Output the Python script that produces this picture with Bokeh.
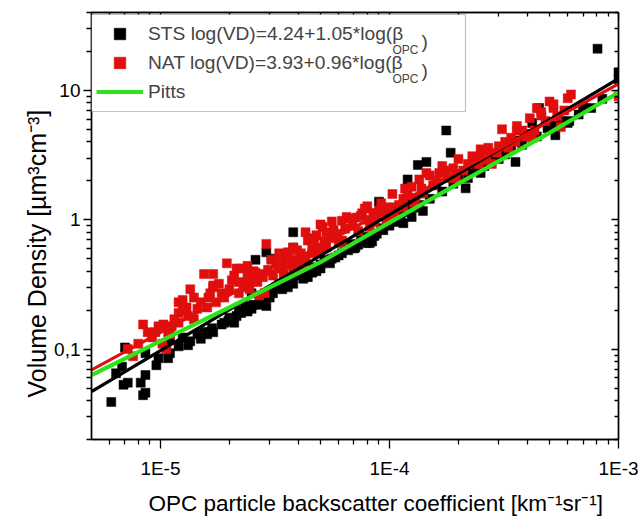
from bokeh.plotting import figure
from bokeh.models import (FixedTicker, LogAxis, CustomJSTickFormatter, Legend, LegendItem,
                          BoxAnnotation, Label, ColumnDataSource, Title)
from bokeh.embed import file_html
from bokeh.resources import INLINE

FONT = "Liberation Sans"

# ---- data ----
sts_x = [6.1e-6, 6.4e-6, 6.8e-6, 6.9e-6, 7.0e-6, 7.2e-6, 8.2e-6, 8.4e-6, 8.6e-6, 8.6e-6,
         8.6e-6, 9.6e-6, 9.8e-6, 1.06e-5, 1.08e-5, 1.1e-5, 1.1e-5, 1.25e-5, 1.32e-5, 1.45e-5,
         1.5e-5, 1.55e-5, 1.6e-5, 1.68e-5, 1.85e-5, 1.9e-5, 1.98e-5, 2.1e-5, 2.15e-5, 2.25e-5,
         2.35e-5, 2.4e-5, 2.4e-5, 2.5e-5, 2.5e-5, 2.55e-5, 2.6e-5, 2.8e-5, 2.85e-5, 2.9e-5,
         2.9e-5, 3.0e-5, 3.05e-5, 3.2e-5, 3.3e-5, 3.6e-5, 3.6e-5, 3.8e-5, 3.8e-5, 3.8e-5,
         3.9e-5, 4.1e-5, 4.2e-5, 4.4e-5, 4.6e-5, 4.7e-5, 5.0e-5, 5.0e-5, 5.3e-5, 5.6e-5,
         5.8e-5, 6.2e-5, 6.6e-5, 7.0e-5, 7.1e-5, 7.5e-5, 8.0e-5, 8.2e-5, 8.4e-5, 8.8e-5,
         9.0e-5, 9.4e-5, 9.5e-5, 1.0e-4, 1.05e-4, 1.08e-4, 1.1e-4, 1.15e-4, 1.2e-4, 1.25e-4,
         1.25e-4, 1.28e-4, 1.33e-4, 1.4e-4, 1.4e-4, 1.45e-4, 1.6e-4, 1.77e-4, 1.85e-4, 2.0e-4,
         2.15e-4, 2.3e-4, 2.5e-4, 2.7e-4, 2.8e-4, 3.0e-4, 3.05e-4, 3.4e-4, 3.55e-4, 3.7e-4,
         4.1e-4, 4.2e-4, 4.5e-4, 4.9e-4, 5.2e-4, 5.3e-4, 5.6e-4, 6.0e-4, 6.1e-4, 6.7e-4,
         7.6e-4, 8.1e-4, 1.0e-3, 1.0e-3,
         1.2e-5, 1.35e-5, 1.7e-5, 2.0e-5, 2.2e-5, 2.7e-5, 3.1e-5, 3.4e-5, 3.5e-5, 3.7e-5,
         4.0e-5, 4.3e-5, 4.5e-5, 4.8e-5, 5.2e-5, 5.5e-5, 6.0e-5, 6.4e-5, 6.8e-5, 7.3e-5,
         7.8e-5, 8.6e-5, 9.2e-5, 9.8e-5, 1.12e-4, 1.18e-4, 1.35e-4, 1.5e-4, 1.7e-4, 1.9e-4,
         2.2e-4, 2.6e-4, 3.2e-4, 3.8e-4, 4.4e-4, 5.0e-4, 7.0e-4, 8.5e-4]
sts_y = [0.039, 0.065, 0.073, 0.053, 0.103, 0.055, 0.055, 0.044, 0.046, 0.063,
         0.093, 0.075, 0.085, 0.11, 0.085, 0.093, 0.118, 0.123, 0.107, 0.13,
         0.12, 0.136, 0.13, 0.145, 0.155, 0.16, 0.165, 0.16, 0.18, 0.19,
         0.215, 0.195, 0.20, 0.205, 0.27, 0.22, 0.49, 0.25, 0.23, 0.215,
         0.56, 0.25, 0.50, 0.30, 0.32, 0.30, 0.34, 0.32, 0.61, 0.80,
         0.37, 0.39, 0.35, 0.36, 0.39, 0.42, 0.42, 0.45, 0.47, 0.50,
         0.51, 0.55, 0.58, 0.60, 0.61, 0.70, 0.66, 0.66, 0.68, 0.78,
         1.38, 0.83, 1.17, 0.90, 1.10, 0.96, 1.25, 0.94, 2.05, 1.05,
         1.33, 1.24, 2.65, 1.17, 1.60, 2.8, 1.85, 4.9, 3.3, 2.2,
         1.75, 2.4, 2.3, 2.85, 2.9, 2.95, 3.3, 3.7, 2.8, 4.1,
         4.6, 5.6, 7.3, 5.1, 5.3, 4.5, 5.8, 5.6, 5.8, 6.5,
         7.3, 21.0, 12.2, 13.8,
         0.105, 0.115, 0.135, 0.175, 0.20, 0.22, 0.27, 0.29, 0.33, 0.35,
         0.40, 0.38, 0.43, 0.40, 0.49, 0.46, 0.53, 0.62, 0.65, 0.64,
         0.74, 0.75, 0.86, 0.95, 1.05, 1.15, 1.30, 1.45, 1.65, 1.90,
         2.1, 2.6, 3.2, 3.8, 4.4, 5.6, 7.6, 8.6]

nat_x = [7.2e-6, 7.6e-6, 8.0e-6, 8.4e-6, 8.8e-6, 9.2e-6, 9.5e-6, 9.8e-6, 1.02e-5, 1.03e-5,
         1.06e-5, 1.08e-5, 1.12e-5, 1.2e-5, 1.2e-5, 1.2e-5, 1.25e-5, 1.25e-5, 1.32e-5, 1.35e-5,
         1.45e-5, 1.5e-5, 1.55e-5, 1.62e-5, 1.7e-5, 1.7e-5, 1.7e-5, 1.85e-5, 1.95e-5, 2.05e-5,
         2.1e-5, 2.15e-5, 2.2e-5, 2.25e-5, 2.3e-5, 2.4e-5, 2.4e-5, 2.4e-5, 2.5e-5, 2.55e-5,
         2.6e-5, 2.7e-5, 2.75e-5, 2.85e-5, 2.9e-5, 3.05e-5, 3.2e-5, 3.3e-5, 3.35e-5, 3.4e-5,
         3.5e-5, 3.6e-5, 3.6e-5, 3.8e-5, 3.8e-5, 3.95e-5, 4.1e-5, 4.2e-5, 4.3e-5, 4.4e-5,
         4.5e-5, 4.6e-5, 4.7e-5, 4.8e-5, 5.0e-5, 5.0e-5, 5.1e-5, 5.3e-5, 5.3e-5, 5.6e-5,
         5.7e-5, 6.2e-5, 6.2e-5, 6.5e-5, 6.7e-5, 7.2e-5, 7.5e-5, 7.6e-5, 7.8e-5, 8.0e-5,
         8.2e-5, 8.5e-5, 8.8e-5, 9.2e-5, 9.7e-5, 9.7e-5, 1.03e-4, 1.1e-4, 1.15e-4, 1.15e-4,
         1.17e-4, 1.25e-4, 1.3e-4, 1.35e-4, 1.38e-4, 1.45e-4, 1.5e-4, 1.55e-4, 1.7e-4, 1.8e-4,
         1.95e-4, 2.0e-4, 2.2e-4, 2.3e-4, 2.45e-4, 2.5e-4, 2.6e-4, 2.7e-4, 2.8e-4, 2.95e-4,
         3.0e-4, 3.1e-4, 3.2e-4, 3.4e-4, 3.55e-4, 3.6e-4, 3.6e-4, 3.8e-4, 4.1e-4, 4.2e-4,
         4.3e-4, 4.4e-4, 4.6e-4, 4.6e-4, 5.0e-4, 5.2e-4, 5.2e-4, 5.6e-4, 6.0e-4, 6.2e-4,
         1.0e-3,
         1.1e-5, 1.15e-5, 1.3e-5, 1.4e-5, 1.4e-5, 1.6e-5, 1.65e-5, 1.75e-5, 1.8e-5, 1.9e-5,
         2.0e-5, 2.2e-5, 2.35e-5, 2.45e-5, 2.65e-5, 2.8e-5, 2.95e-5, 3.1e-5, 3.25e-5, 3.45e-5,
         3.7e-5, 3.9e-5, 4.0e-5, 4.3e-5, 4.6e-5, 4.9e-5, 5.2e-5, 5.5e-5, 5.9e-5, 6.0e-5,
         6.4e-5, 6.9e-5, 7.3e-5, 8.0e-5, 8.6e-5, 9.0e-5, 1.0e-4, 1.05e-4, 1.2e-4, 1.28e-4,
         1.4e-4, 1.6e-4, 1.65e-4, 1.75e-4, 1.9e-4, 2.1e-4, 2.4e-4, 2.65e-4, 3.3e-4, 3.9e-4,
         4.8e-4, 5.4e-4, 5.8e-4]
nat_y = [0.10, 0.088, 0.11, 0.155, 0.135, 0.123, 0.135, 0.15, 0.11, 0.155,
         0.10, 0.135, 0.15, 0.16, 0.19, 0.23, 0.20, 0.24, 0.18, 0.29,
         0.205, 0.23, 0.38, 0.25, 0.30, 0.31, 0.38, 0.27, 0.46, 0.34,
         0.37, 0.42, 0.27, 0.42, 0.30, 0.35, 0.38, 0.44, 0.34, 0.40,
         0.39, 0.26, 0.38, 0.27, 0.65, 0.49, 0.46, 0.55, 0.54, 0.43,
         0.49, 0.49, 0.56, 0.41, 0.61, 0.58, 0.55, 0.46, 0.80, 0.69,
         0.70, 0.55, 0.72, 0.76, 0.61, 0.92, 0.88, 0.61, 0.80, 0.97,
         0.83, 0.69, 0.98, 1.05, 1.02, 1.04, 1.07, 1.12, 1.22, 1.27,
         0.88, 1.13, 1.10, 1.34, 0.99, 1.13, 1.58, 1.30, 1.25, 1.45,
         1.74, 1.8, 1.48, 2.05, 1.74, 2.3, 2.2, 1.85, 2.6, 2.1,
         2.1, 2.95, 2.7, 3.1, 2.7, 3.5, 3.2, 3.6, 2.7, 3.3,
         3.7, 5.0, 4.0, 4.3, 4.0, 4.9, 5.3, 4.9, 6.1, 4.3,
         4.9, 7.3, 6.4, 6.8, 8.2, 7.3, 7.8, 5.2, 8.7, 9.3,
         9.0,
         0.13, 0.17, 0.21, 0.17, 0.25, 0.21, 0.27, 0.23, 0.32, 0.25,
         0.29, 0.33, 0.31, 0.29, 0.33, 0.36, 0.41, 0.37, 0.42, 0.38,
         0.45, 0.49, 0.44, 0.52, 0.62, 0.57, 0.68, 0.72, 0.78, 0.66,
         0.85, 0.90, 0.82, 1.00, 0.96, 1.18, 1.25, 1.10, 1.55, 1.35,
         1.60, 2.0, 2.3, 2.4, 2.5, 2.4, 3.0, 2.9, 3.6, 4.4,
         5.8, 6.3, 7.0]

fit_x = [5e-6, 1e-3]
sts_fit_y = [0.047, 12.3]
nat_fit_y = [0.069, 11.2]

pitts_x = [5e-6, 1e-5, 2e-5, 5e-5, 1e-4, 2e-4, 5e-4, 1e-3]
pitts_y = [0.063, 0.115, 0.21, 0.47, 0.95, 1.9, 4.7, 9.6]

x_major = [1e-5, 1e-4, 1e-3]
y_major = [0.1, 1, 10]
x_minor = [k * 10.0 ** e for e in (-6, -5, -4) for k in range(2, 10)]
y_minor = [k * 10.0 ** e for e in (-2, -1, 0, 1) for k in range(2, 10)]

x_title = "OPC particle backscatter coefficient [km\u207b\u00b9sr\u207b\u00b9]"
y_title = "Volume Density [\u00b5m\u00b3cm\u207b\u00b3]"

RED = "#E10E0E"
GREEN = "#2EE21C"

p = figure(width=641, height=522, x_axis_type="log", y_axis_type="log",
           x_range=(5e-6, 1e-3), y_range=(0.02, 40), output_backend="svg",
           toolbar_location=None, min_border_left=91, min_border_right=23,
           min_border_top=12, min_border_bottom=82)
p.xgrid.visible = False
p.ygrid.visible = False
p.outline_line_color = "black"
p.outline_line_width = 1.3
p.background_fill_color = "white"
p.border_fill_color = "white"

xt = FixedTicker(ticks=x_major, minor_ticks=x_minor)
yt = FixedTicker(ticks=y_major, minor_ticks=y_minor)
xfmt = CustomJSTickFormatter(code="return '1E' + Math.round(Math.log10(tick));")
yfmt = CustomJSTickFormatter(code="return String(tick).replace('.', ',');")

for ax, t, f in ((p.xaxis[0], xt, xfmt), (p.yaxis[0], yt, yfmt)):
    ax.ticker = t
    ax.formatter = f
    ax.axis_line_width = 1.5
    ax.axis_line_color = "black"
    ax.major_tick_line_width = 1.3
    ax.minor_tick_line_width = 1.3
    ax.major_tick_in = 0
    ax.minor_tick_in = 0
    ax.major_label_text_font = FONT
    ax.major_label_text_font_size = "19px"
    ax.major_label_text_color = "black"

p.xaxis[0].major_tick_out = 9
p.xaxis[0].minor_tick_out = 5
p.xaxis[0].major_label_standoff = 9
p.yaxis[0].major_tick_out = 8
p.yaxis[0].minor_tick_out = 5
p.yaxis[0].major_label_standoff = 3

blank = CustomJSTickFormatter(code="return '';")
for loc, t in (("above", xt), ("right", yt)):
    a = LogAxis(ticker=t, formatter=blank, major_tick_in=7, major_tick_out=0,
                minor_tick_in=4, minor_tick_out=0, axis_line_width=1.5,
                major_tick_line_width=1.3, minor_tick_line_width=1.3,
                major_label_standoff=0, major_label_text_font_size="0px")
    p.add_layout(a, loc)

# axis titles, offset along the axes as in the reference
p.add_layout(Title(text=x_title, align="left", offset=57, standoff=14,
                   text_line_height=0.8,
                   text_font=FONT, text_font_size="22.5px", text_font_style="normal",
                   text_color="black"), "below")
p.add_layout(Title(text=y_title, align="left", offset=42, standoff=2,
                   text_font=FONT, text_font_size="25px", text_font_style="normal",
                   text_color="black"), "left")

sts_src = ColumnDataSource(dict(x=sts_x, y=sts_y))
nat_src = ColumnDataSource(dict(x=nat_x, y=nat_y))

r_sts = p.scatter("x", "y", source=sts_src, marker="square", size=9,
                  fill_color="black", line_color="black", line_width=0.5)
r_nat = p.scatter("x", "y", source=nat_src, marker="square", size=9,
                  fill_color=RED, line_color=RED, line_width=0.5)
p.line(fit_x, sts_fit_y, line_color="black", line_width=3.2)
p.line(fit_x, nat_fit_y, line_color=RED, line_width=3.2)
r_pitts = p.line(pitts_x, pitts_y, line_color=GREEN, line_width=4.2)

box = BoxAnnotation(left=0, right=374, bottom=328, top=425,
                    left_units="screen", right_units="screen",
                    bottom_units="screen", top_units="screen",
                    fill_color="white", fill_alpha=1.0,
                    line_color="#333333", line_width=1.2)
p.add_layout(box)

legend = Legend(items=[
    LegendItem(label="STS log(VD)=4.24+1.05*log(\u03b2", renderers=[r_sts]),
    LegendItem(label="NAT log(VD)=3.93+0.96*log(\u03b2", renderers=[r_nat]),
    LegendItem(label="Pitts", renderers=[r_pitts]),
], location=(0, 328), padding=5, spacing=0, margin=0,
    glyph_width=47, glyph_height=29, label_height=29, label_standoff=5,
    label_text_font=FONT, label_text_font_size="19.2px",
    border_line_alpha=0, background_fill_alpha=0)
p.add_layout(legend)

for dy in (0, 29):
    p.add_layout(Label(x=301, y=390 - dy, x_units="screen", y_units="screen",
                       text="OPC", text_font=FONT, text_font_size="12px",
                       text_baseline="alphabetic"))
    p.add_layout(Label(x=330, y=398 - dy, x_units="screen", y_units="screen",
                       text=")", text_font=FONT, text_font_size="19.2px",
                       text_baseline="alphabetic"))

open("out.html", "w").write(file_html(p, INLINE))
